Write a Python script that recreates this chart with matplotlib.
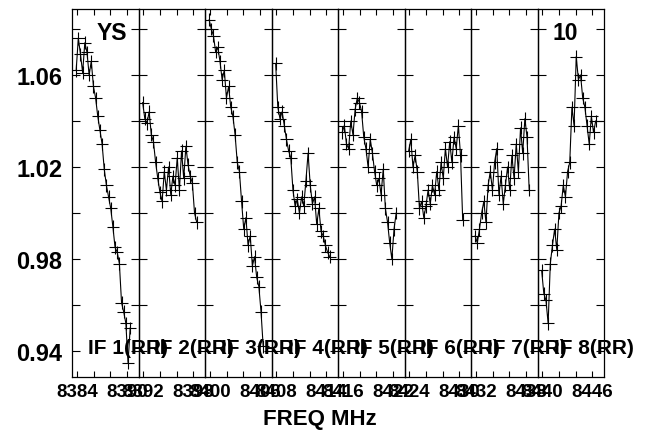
import matplotlib
matplotlib.use("Agg")
import matplotlib.pyplot as plt

plt.rcParams['font.family'] = ['Liberation Sans', 'DejaVu Sans']
plt.rcParams['font.weight'] = 'bold'

# channel offsets (MHz) from the start of each IF
chan_off = [0.50, 0.76, 1.02, 1.28, 1.54, 1.80, 2.06, 2.32, 2.58, 2.84, 3.10, 3.36, 3.62,
            3.88, 4.14, 4.40, 4.66, 4.92, 5.18, 5.44, 5.70, 5.96, 6.22, 6.48, 6.74, 7.00]

if_start = [8383.4, 8391.4, 8399.4, 8407.4, 8415.4, 8423.4, 8431.4, 8439.4]
if_labels = ['IF 1(RR)', 'IF 2(RR)', 'IF 3(RR)', 'IF 4(RR)',
             'IF 5(RR)', 'IF 6(RR)', 'IF 7(RR)', 'IF 8(RR)']

amp_if1 = [1.062, 1.076, 1.069, 1.061, 1.074, 1.070, 1.060, 1.066, 1.055, 1.050, 1.042, 1.036,
           1.030, 1.019, 1.012, 1.007, 1.002, 0.994, 0.985, 0.983, 0.978, 0.961, 0.957, 0.952,
           0.935, 0.950]
amp_if2 = [1.048, 1.041, 1.039, 1.044, 1.034, 1.031, 1.022, 1.015, 1.009, 1.005, 1.018, 1.010,
           1.020, 1.008, 1.016, 1.012, 1.024, 1.010, 1.027, 1.015, 1.029, 1.021, 1.016, 1.013,
           1.000, 0.996]
amp_if3 = [1.084, 1.080, 1.077, 1.070, 1.072, 1.066, 1.058, 1.062, 1.050, 1.055, 1.046, 1.042,
           1.034, 1.022, 1.018, 1.005, 0.993, 0.998, 0.986, 0.990, 0.977, 0.981, 0.972, 0.968,
           0.957, 0.942]
amp_if4 = [1.065, 1.046, 1.041, 1.044, 1.038, 1.032, 1.027, 1.024, 1.010, 1.003, 1.006, 1.000,
           1.007, 1.003, 1.014, 1.026, 1.012, 1.004, 1.007, 0.995, 1.002, 0.992, 0.990, 0.986,
           0.983, 0.981]
amp_if5 = [1.035, 1.038, 1.030, 1.028, 1.040, 1.034, 1.045, 1.050, 1.048, 1.044, 1.033, 1.028,
           1.020, 1.032, 1.026, 1.018, 1.012, 1.015, 1.008, 1.019, 1.002, 0.996, 0.987, 0.980,
           0.993, 1.000]
amp_if6 = [1.027, 1.032, 1.020, 1.025, 1.018, 1.002, 1.005, 0.998, 1.003, 1.010, 1.004, 1.012,
           1.008, 1.018, 1.010, 1.022, 1.015, 1.028, 1.020, 1.031, 1.022, 1.033, 1.028, 1.038,
           1.025, 0.997]
amp_if7 = [0.990, 0.987, 0.993, 1.000, 1.005, 0.996, 1.012, 1.018, 1.010, 1.022, 1.028, 1.008,
           1.016, 1.004, 1.012, 1.020, 1.010, 1.025, 1.015, 1.030, 1.018, 1.037, 1.026, 1.041,
           1.033, 1.010]
amp_if8 = [0.975, 0.965, 0.962, 0.952, 0.978, 0.986, 0.993, 0.984, 1.000, 1.003, 1.012, 1.007,
           1.018, 1.022, 1.046, 1.038, 1.068, 1.058, 1.060, 1.050, 1.046, 1.038, 1.030, 1.042,
           1.035, 1.040]
amps = [amp_if1, amp_if2, amp_if3, amp_if4, amp_if5, amp_if6, amp_if7, amp_if8]

ytick_vals = [0.94, 0.96, 0.98, 1.00, 1.02, 1.04, 1.06, 1.08]
ytick_labels = ['0.94', '', '0.98', '', '1.02', '', '1.06', '']

fig = plt.figure(figsize=(6.46, 4.35), dpi=100)
axes = fig.subplots(1, 8, sharey=True, gridspec_kw=dict(wspace=0))
fig.subplots_adjust(left=72/646, right=604/646, bottom=1-378/435, top=1-9.5/435)

for i, ax in enumerate(axes):
    f0 = if_start[i]
    freqs = [f0 + c for c in chan_off]
    ax.errorbar(freqs, amps[i], xerr=0.75, yerr=0.0028, color='black', lw=0.8,
                elinewidth=0.8, capsize=0)
    ax.set_xlim(f0, f0 + 8)
    ticks = [f0 + 0.6, f0 + 2.6, f0 + 4.6, f0 + 6.6]
    ax.set_xticks(ticks)
    ax.set_xticklabels([f'{ticks[0]:.0f}', '', '', f'{ticks[3]:.0f}'],
                       fontsize=13.5, fontweight='bold')
    ax.tick_params(axis='x', which='both', direction='in', top=True, bottom=True,
                   length=4, width=0.8, pad=4)
    ax.tick_params(axis='y', which='both', direction='in', left=True, right=True,
                   length=5.5, width=0.8, pad=7)
    ax.patch.set_visible(False)
    for s in ax.spines.values():
        s.set_linewidth(0.9)
    ax.text(16/66.5, 0.079, if_labels[i], transform=ax.transAxes, fontsize=15,
            fontweight='bold', ha='left', va='center')

axes[0].set_ylim(0.9287, 1.0889)
axes[0].set_yticks(ytick_vals)
axes[0].set_yticklabels(ytick_labels, fontsize=17, fontweight='bold')

axes[0].text(0.6, 0.936, 'YS', transform=axes[0].transAxes, fontsize=16.5,
             fontweight='bold', ha='center', va='center')
axes[7].text(0.42, 0.935, '10', transform=axes[7].transAxes, fontsize=16.5,
             fontweight='bold', ha='center', va='center')

fig.text(320/646, 1-420/435, 'FREQ MHz', fontsize=16, fontweight='bold',
         ha='center', va='center')

fig.savefig('out.png', dpi=100)
